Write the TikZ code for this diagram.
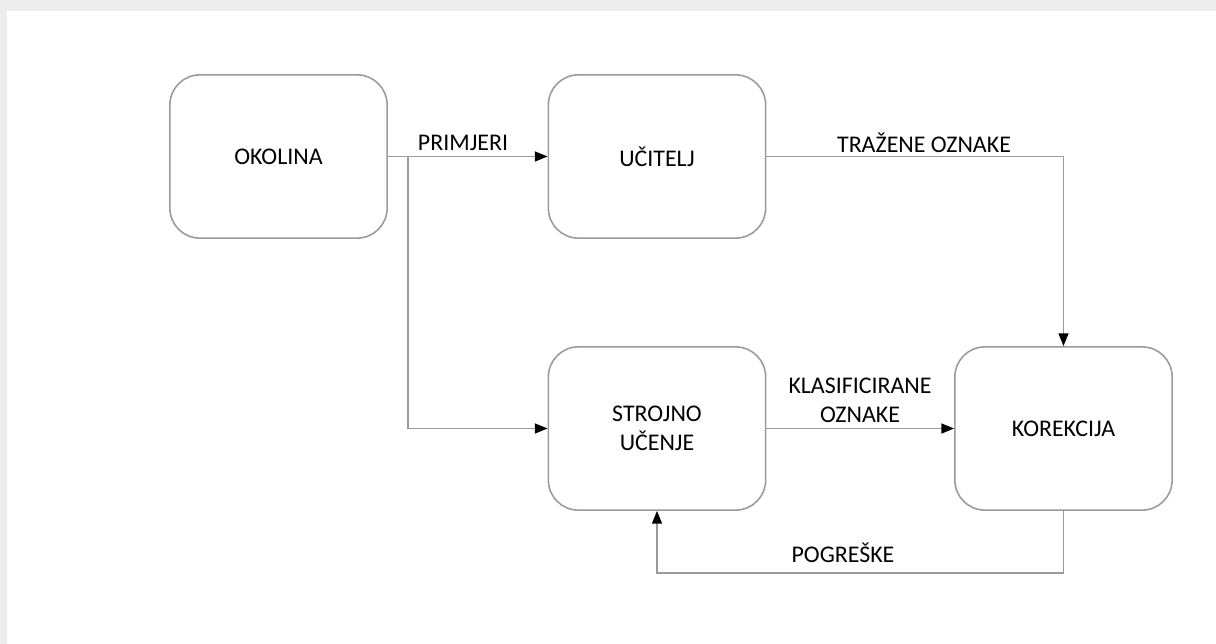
\documentclass[tikz,border=0pt]{standalone}
\usepackage{fontspec}
\setmainfont{Carlito}
\usetikzlibrary{arrows.meta}
\definecolor{rubgray}{HTML}{9A9A9A}
\definecolor{pozgray}{HTML}{EDEDED}
\tikzset{
  blok/.style={draw=rubgray, line width=1.1pt, rounded corners=0.75cm,
    minimum width=5.43cm, minimum height=4.08cm, inner sep=0pt,
    align=center, font=\fontsize{17}{20.8}\selectfont},
  veza/.style={draw=rubgray, line width=1.1pt,
    -{Triangle[length=9pt,width=7pt,color=black]}},
  oznaka/.style={align=center, inner sep=0pt, font=\fontsize{17}{20.8}\selectfont}
}
\begin{document}
\begin{tikzpicture}[x=0.025cm, y=-0.025cm]
  \useasboundingbox (0,0) rectangle (1216,644);
  % pozadina
  \fill[pozgray] (0,0) rectangle (1216,644);
  \fill[white] (7,11) rectangle (1216,644);

  % blokovi
  \node[blok] (okolina) at (278.5,156.5) {OKOLINA};
  \node[blok] (ucitelj) at (657,156.5) {UČITELJ};
  \node[blok] (ucenje) at (657,428.5) {STROJNO\\UČENJE};
  \node[blok] (korekcija) at (1063.5,428.5) {KOREKCIJA};
  \coordinate (grana) at (408,156.5);

  % veze
  \draw[veza] (okolina) -- (ucitelj);
  \draw[veza] (grana) |- (ucenje.west);
  \draw[veza] (ucitelj.east) -| (korekcija.north);
  \draw[veza] (ucenje) -- (korekcija);
  \draw[veza] (korekcija.south) -- ++(0,62) -| (ucenje.south);

  % oznake
  \node[oznaka] (primjeri) at (463,143) {PRIMJERI};
  \node[oznaka] (trazene) at (924,143) {TRAŽENE OZNAKE};
  \node[oznaka] (klasif) at (860,400) {KLASIFICIRANE\\OZNAKE};
  \node[oznaka] (pogreske) at (843,553) {POGREŠKE};
\end{tikzpicture}
\end{document}
